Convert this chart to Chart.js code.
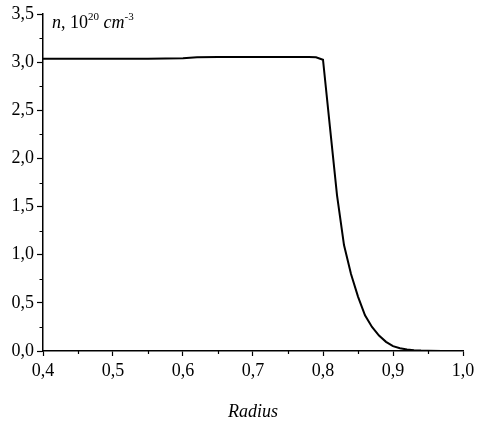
<!DOCTYPE html>
<html>
<head>
<meta charset="utf-8">
<script src="https://cdn.jsdelivr.net/npm/chart.js@4/dist/chart.umd.min.js"></script>
<style>
  html, body { margin: 0; padding: 0; background: #fff; }
  #wrap { width: 480px; height: 423px; position: relative; }
</style>
</head>
<body>
<div id="wrap"><canvas id="densityChart"></canvas></div>
<script>
// data
const radius  = [0.40, 0.45, 0.50, 0.55, 0.60, 0.61, 0.62, 0.65, 0.70, 0.75, 0.78, 0.79,
                 0.80, 0.81, 0.82, 0.83, 0.84, 0.85, 0.86, 0.87, 0.88, 0.89, 0.90,
                 0.91, 0.92, 0.93, 0.94, 0.95, 0.97, 1.00];
const density = [3.035, 3.035, 3.035, 3.036, 3.040, 3.046, 3.052, 3.053, 3.054, 3.054, 3.054, 3.050,
                 3.025, 2.32, 1.62, 1.10, 0.80, 0.565, 0.37, 0.25, 0.16, 0.095, 0.05,
                 0.028, 0.015, 0.008, 0.004, 0.002, 0.0005, 0];

const xMajorTicks = [0.4, 0.5, 0.6, 0.7, 0.8, 0.9, 1.0];
const xMinorTicks = [0.45, 0.55, 0.65, 0.75, 0.85, 0.95];
const yMajorTicks = [0, 0.5, 1.0, 1.5, 2.0, 2.5, 3.0, 3.5];
const yMinorTicks = [0.25, 0.75, 1.25, 1.75, 2.25, 2.75, 3.25];

const FONT = '"Liberation Serif", "Times New Roman", serif';

function fmt(v) {
    return Number(v).toFixed(1).replace('.', ',');
}

// minor ticks + the "n, 10^20 cm^-3" label
const extras = {
    id: 'extras',
    afterDraw(chart) {
        const c = chart.ctx;
        const xs = chart.scales.x, ys = chart.scales.y;
        const area = chart.chartArea;
        c.save();
        c.strokeStyle = '#000';
        c.lineWidth = 1.2;
        c.beginPath();
        xMinorTicks.forEach(v => {
            const px = Math.round(xs.getPixelForValue(v)) + 0.5;
            c.moveTo(px, area.bottom);
            c.lineTo(px, area.bottom + 3);
        });
        yMinorTicks.forEach(v => {
            const py = Math.round(ys.getPixelForValue(v)) + 0.5;
            c.moveTo(area.left, py);
            c.lineTo(area.left - 3.5, py);
        });
        c.stroke();

        // unit label
        c.fillStyle = '#000';
        c.textBaseline = 'alphabetic';
        let x = 52, y = 28;
        const parts = [
            ['italic 18px ' + FONT, 'n', 0],
            ['18px ' + FONT, ', 10', 0],
            ['11px ' + FONT, '20', -8],
            ['18px ' + FONT, ' ', 0],
            ['italic 18px ' + FONT, 'cm', 0],
            ['11px ' + FONT, '-3', -8]
        ];
        parts.forEach(p => {
            c.font = p[0];
            c.fillText(p[1], x, y + p[2]);
            x += c.measureText(p[1]).width;
        });
        c.restore();
    }
};

const ctx = document.getElementById('densityChart').getContext('2d');
const densityChart = new Chart(ctx, {
    type: 'line',
    data: {
        datasets: [{
            data: radius.map((r, i) => ({ x: r, y: density[i] })),
            borderColor: '#000',
            borderWidth: 2,
            pointRadius: 0,
            tension: 0,
            fill: false
        }]
    },
    options: {
        responsive: true,
        maintainAspectRatio: false,
        animation: false,
        layout: { padding: { top: 14, right: 17, left: 0, bottom: 0 } },
        plugins: { legend: { display: false }, tooltip: { enabled: false } },
        scales: {
            x: {
                type: 'linear',
                min: 0.4, max: 1.0,
                afterBuildTicks: s => { s.ticks = xMajorTicks.map(v => ({ value: v })); },
                afterFit: s => { s.height = 72; },
                border: { display: true, color: '#000', width: 1.5 },
                grid: { drawOnChartArea: false, drawTicks: true, tickLength: 5, tickColor: '#000', tickWidth: 1.2 },
                ticks: {
                    color: '#000', padding: 4, maxRotation: 0,
                    font: { family: FONT, size: 18 },
                    callback: v => fmt(v)
                },
                title: {
                    display: true, text: 'Radius', color: '#000',
                    font: { family: FONT, size: 18, style: 'italic' },
                    padding: { top: 0, bottom: 0 }
                }
            },
            y: {
                min: 0, max: 3.5,
                afterBuildTicks: s => { s.ticks = yMajorTicks.map(v => ({ value: v })); },
                afterFit: s => { s.width = 43; },
                border: { display: true, color: '#000', width: 1.5 },
                grid: { drawOnChartArea: false, drawTicks: true, tickLength: 6, tickColor: '#000', tickWidth: 1.2 },
                ticks: {
                    color: '#000', padding: 3,
                    font: { family: FONT, size: 18 },
                    callback: v => fmt(v)
                }
            }
        }
    },
    plugins: [extras]
});
</script>
</body>
</html>
